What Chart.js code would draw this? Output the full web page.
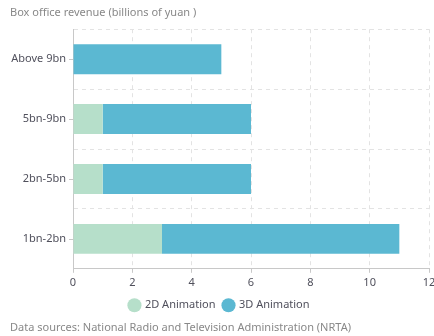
<!DOCTYPE html>
<html>
<head>
<meta charset="utf-8">
<script src="https://cdn.jsdelivr.net/npm/chart.js@4"></script>
<style>
  html, body { margin: 0; padding: 0; background: #fff; }
  #wrap { width: 434px; height: 336px; }
</style>
</head>
<body>
<div id="wrap"><canvas id="chart" width="434" height="336"></canvas></div>
<script>
// Box office tiers, top to bottom
const tiers = ['Above 9bn', '5bn-9bn', '2bn-5bn', '1bn-2bn'];
// Number of films per tier
const anim2D = [0, 1, 1, 3];
const anim3D = [5, 5, 5, 8];
const xTicks = [0, 2, 4, 6, 8, 10, 12];

const fontFamily = '"Noto Sans", "Open Sans", sans-serif';
const fontSize = 11;
const labelColor = '#50505c';
const gridColor = '#e3e3e3';
const axisColor = '#c8c8c8';

// Small tick marks next to each category label (grid lines sit between categories)
const categoryTicks = {
    id: 'categoryTicks',
    afterDraw(chart) {
        const y = chart.scales.y;
        const c = chart.ctx;
        c.save();
        c.strokeStyle = axisColor;
        c.lineWidth = 1;
        y.ticks.forEach((t, i) => {
            const py = Math.round(y.getPixelForTick(i)) + 0.5;
            c.beginPath();
            c.moveTo(y.right - 4, py);
            c.lineTo(y.right, py);
            c.stroke();
        });
        c.restore();
    }
};

const ctx = document.getElementById('chart').getContext('2d');
new Chart(ctx, {
    type: 'bar',
    data: {
        labels: tiers,
        datasets: [
            {
                label: '2D Animation',
                data: anim2D,
                backgroundColor: '#b6dfca',
                barPercentage: 0.5,
                categoryPercentage: 1
            },
            {
                label: '3D Animation',
                data: anim3D,
                backgroundColor: '#5bb8d2',
                barPercentage: 0.5,
                categoryPercentage: 1
            }
        ]
    },
    options: {
        indexAxis: 'y',
        responsive: false,
        animation: false,
        layout: { autoPadding: false, padding: { left: 10, right: 5, top: 0, bottom: 0 } },
        scales: {
            x: {
                stacked: true,
                min: 0,
                max: 12,
                afterBuildTicks: axis => { axis.ticks = xTicks.map(v => ({ value: v })); },
                afterFit: axis => {
                    axis.height = 23;
                    // let the last label run past the edge instead of shrinking the plot
                    axis.paddingLeft = 0;
                    axis.paddingRight = 0;
                },
                grid: {
                    color: gridColor,
                    tickColor: axisColor,
                    tickLength: 4
                },
                border: { color: axisColor, dash: [4, 4] },
                ticks: { color: labelColor, font: { family: fontFamily, size: fontSize }, padding: 3 }
            },
            y: {
                stacked: true,
                afterFit: axis => { axis.width = 63; },
                grid: {
                    offset: true,
                    color: gridColor,
                    drawTicks: false
                },
                border: { color: axisColor, dash: [4, 4] },
                ticks: { color: labelColor, font: { family: fontFamily, size: fontSize }, padding: 7 }
            }
        },
        plugins: {
            title: {
                display: true,
                text: 'Box office revenue (billions of yuan )',
                align: 'start',
                color: '#888',
                font: { family: fontFamily, size: fontSize, weight: 'normal' },
                padding: { top: 6, bottom: 10 }
            },
            subtitle: {
                display: true,
                position: 'bottom',
                text: 'Data sources: National Radio and Television Administration (NRTA)',
                align: 'start',
                color: '#888',
                font: { family: fontFamily, size: fontSize },
                padding: { top: 0, bottom: 2 }
            },
            legend: {
                position: 'bottom',
                labels: {
                    usePointStyle: true,
                    pointStyle: 'circle',
                    boxWidth: 10,
                    boxHeight: 10,
                    padding: 8,
                    color: labelColor,
                    font: { family: fontFamily, size: fontSize }
                }
            },
            tooltip: { enabled: false }
        }
    },
    plugins: [categoryTicks]
});
</script>
</body>
</html>
